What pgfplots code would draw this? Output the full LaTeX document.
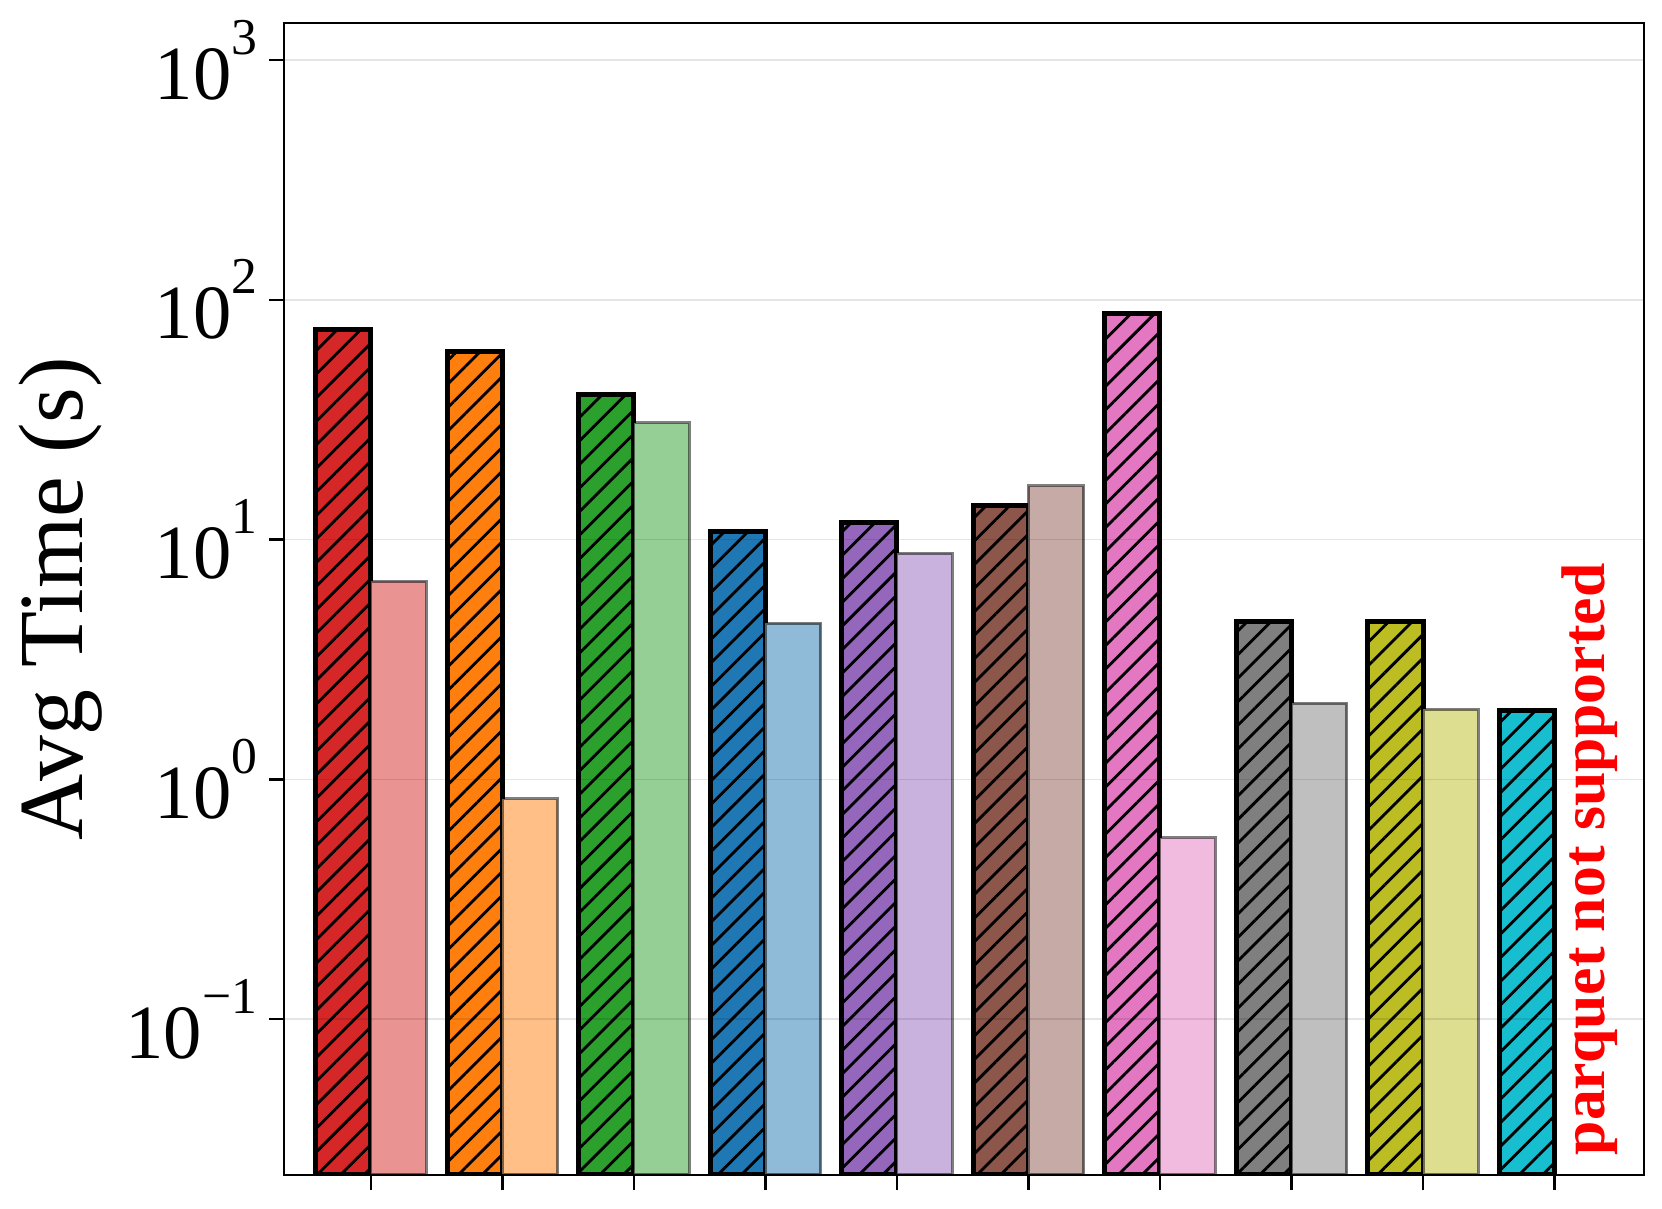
\documentclass[border=0pt]{standalone}
\usepackage{pgfplots}
\pgfplotsset{compat=1.18}
\usepackage{fontspec}
\setmainfont{Liberation Serif}
\usetikzlibrary{patterns.meta}

% tab10 colours
\definecolor{tred}{HTML}{D62728}
\definecolor{torange}{HTML}{FF7F0E}
\definecolor{tgreen}{HTML}{2CA02C}
\definecolor{tblue}{HTML}{1F77B4}
\definecolor{tpurple}{HTML}{9467BD}
\definecolor{tbrown}{HTML}{8C564B}
\definecolor{tpink}{HTML}{E377C2}
\definecolor{tgray}{HTML}{7F7F7F}
\definecolor{tolive}{HTML}{BCBD22}
\definecolor{tcyan}{HTML}{17BECF}

\newcommand{\ep}[1]{10\raisebox{13.5pt}{\fontsize{15.5}{15.5}\selectfont #1}}

\pgfplotsset{
  hatched/.style={fill=#1, draw=black, line width=1.5pt, bar shift=-0.21,
    postaction={pattern={Lines[angle=45,distance=5pt,line width=0.85pt]}}},
  soft/.style={fill=#1!50, draw=black, draw opacity=0.5, line width=0.9pt, bar shift=0.21},
}

\begin{document}
\begin{tikzpicture}
\path[use as bounding box] (-85.2pt,-10.2pt) rectangle (413.4pt,352.5pt);
\begin{axis}[
    at={(0,0)}, anchor=south west,
    scale only axis, width=408pt, height=345.6pt,
    ymode=log, log origin y=infty,
    ymin=0.0224, ymax=1426,
    xmin=-0.66, xmax=9.68,
    ybar, bar width=0.42,
    xtick={0,...,9}, xticklabels={},
    ytick={0.1,1,10,100,1000},
    yticklabels={\ep{−1},\ep{0},\ep{1},\ep{2},\ep{3}},
    yminorticks=false,
    tick align=outside, xtick pos=bottom, ytick pos=left,
    major tick length=4.5pt,
    every tick/.style={black, line width=0.7pt},
    axis line style={line width=0.8pt},
    ymajorgrids, major grid style={black, opacity=0.1, line width=0.5pt},
    axis on top,
    tick label style={font=\fontsize{23}{23}\selectfont},
    ylabel={Avg Time (s)},
    ylabel style={font=\fontsize{27.5}{27.5}\selectfont},
]
\addplot[hatched=tred] coordinates {(0,75)};
\addplot[soft=tred] coordinates {(0,6.7)};
\addplot[hatched=torange] coordinates {(1,60.7)};
\addplot[soft=torange] coordinates {(1,0.83)};
\addplot[hatched=tgreen] coordinates {(2,40.4)};
\addplot[soft=tgreen] coordinates {(2,30.7)};
\addplot[hatched=tblue] coordinates {(3,10.8)};
\addplot[soft=tblue] coordinates {(3,4.47)};
\addplot[hatched=tpurple] coordinates {(4,11.8)};
\addplot[soft=tpurple] coordinates {(4,8.75)};
\addplot[hatched=tbrown] coordinates {(5,13.9)};
\addplot[soft=tbrown] coordinates {(5,16.8)};
\addplot[hatched=tpink] coordinates {(6,87.5)};
\addplot[soft=tpink] coordinates {(6,0.57)};
\addplot[hatched=tgray] coordinates {(7,4.56)};
\addplot[soft=tgray] coordinates {(7,2.08)};
\addplot[hatched=tolive] coordinates {(8,4.56)};
\addplot[soft=tolive] coordinates {(8,1.96)};
\addplot[hatched=tcyan] coordinates {(9,1.94)};
\node[rotate=90, anchor=west, inner sep=0pt, text=red,
      font=\bfseries\fontsize{18.5}{18.5}\selectfont]
      at (axis cs:9.27,0.0269) {parquet not supported};
\end{axis}
\end{tikzpicture}
\end{document}
